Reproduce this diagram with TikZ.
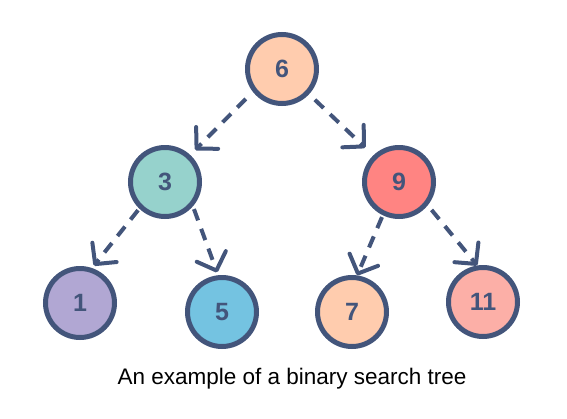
\documentclass[tikz,border=0pt]{standalone}
\usepackage{fontspec}
\setmainfont{Liberation Sans}
\usetikzlibrary{arrows.meta}
\definecolor{ink}{HTML}{43557B}
\definecolor{peach}{HTML}{FFCCAE}
\definecolor{teal}{HTML}{96D2CC}
\definecolor{coral}{HTML}{FF8482}
\definecolor{lavender}{HTML}{B1A7D3}
\definecolor{sky}{HTML}{74C3E1}
\definecolor{rose}{HTML}{FCAFA7}
\begin{document}
\begin{tikzpicture}[x=1pt,y=-1pt,
		key/.style={circle,draw=ink,line width=5pt,minimum size=69pt,inner sep=0pt,
			text=ink,font=\fontsize{25}{25}\selectfont\bfseries},
		link/.style={draw=ink,line width=4pt,dash pattern=on 12pt off 9pt,
			-{Straight Barb[length=15pt,width=31pt,line width=4pt,round]}}]
		\useasboundingbox (0,0) rectangle (567,418);
		% keys of the tree
		\node[key,fill=peach] (n6) at (282,69) {6};
		\node[key,fill=teal] (n3) at (165,182) {3};
		\node[key,fill=coral] (n9) at (399,182) {9};
		\node[key,fill=lavender] (n1) at (80,303) {1};
		\node[key,fill=sky] (n5) at (222,312) {5};
		\node[key,fill=peach] (n7) at (352,312) {7};
		\node[key,fill=rose] (n11) at (483,302) {11};
		% links
		\draw[link,shorten <=10pt,shorten >=7pt] (n6.-142) -- (n3.47);
		\draw[link,shorten <=8pt,shorten >=11pt] (n6.-43) -- (n9.134);
		\draw[link,shorten <=2pt,shorten >=3pt] (n3.-134) -- (n1.71);
		\draw[link,shorten <=3pt,shorten >=3pt] (n3.-41) -- (n5.96);
		\draw[link,shorten <=2pt,shorten >=0pt] (n9.-116) -- (n7.82);
		\draw[link,shorten <=6pt,shorten >=0pt] (n9.-39) -- (n11.99);
		\node[font=\fontsize{22.5}{23}\selectfont] (caption) at (292,379) {An example of a binary search tree};
	\end{tikzpicture}
\end{document}
